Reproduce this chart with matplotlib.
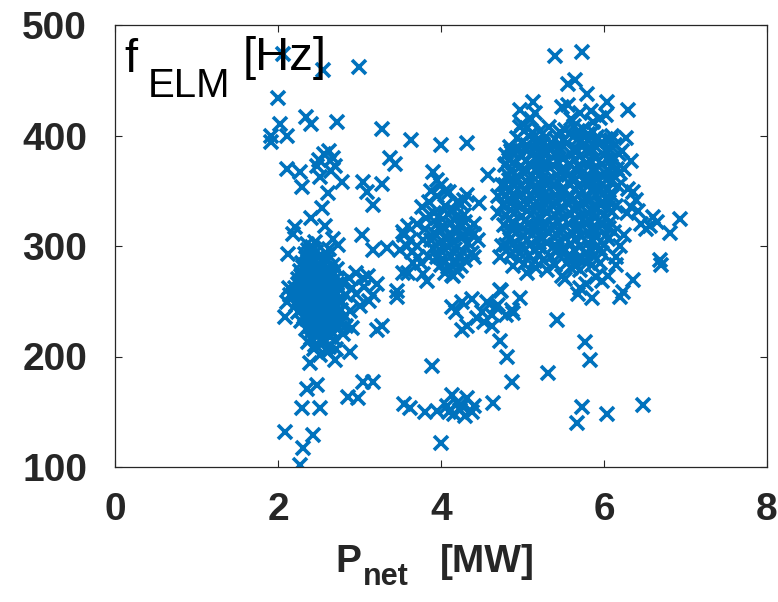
import numpy as np
import matplotlib
matplotlib.use("Agg")
import matplotlib.pyplot as plt

plt.rcParams['font.family'] = ['Liberation Sans', 'DejaVu Sans']

# (P_net [MW], f_ELM [Hz]), grouped by region
upper_left = [(2.06, 474), (2.55, 459), (3.00, 462), (2.00, 434), (1.91, 394), (1.92, 400), (2.03, 410),
              (2.11, 400), (2.34, 417), (2.40, 410), (2.72, 412), (3.27, 406), (2.11, 370), (2.27, 367),
              (2.29, 353), (2.54, 334), (2.61, 348), (2.48, 372), (2.50, 378), (2.56, 383), (2.62, 386),
              (2.67, 380), (2.70, 372), (2.52, 362), (2.79, 358), (3.04, 358), (3.09, 349), (3.16, 337),
              (3.28, 356), (3.37, 380), (3.43, 374), (2.65, 368)]

cluster_a = [(2.36, 302), (2.42, 299), (2.46, 304),
             (2.33, 293), (2.40, 291), (2.47, 295), (2.61, 292),
             (2.30, 285), (2.38, 283), (2.44, 287), (2.52, 284), (2.60, 286), (2.67, 283),
             (2.27, 277), (2.35, 279), (2.43, 276), (2.50, 278), (2.57, 275), (2.65, 277), (2.72, 279),
             (2.24, 270), (2.31, 268), (2.39, 271), (2.47, 269), (2.55, 272), (2.62, 268), (2.70, 270), (2.79, 267),
             (2.21, 262), (2.29, 264), (2.37, 261), (2.45, 263), (2.52, 260), (2.60, 262), (2.68, 264), (2.76, 261),
             (2.20, 255), (2.27, 253), (2.35, 256), (2.43, 254), (2.50, 257), (2.58, 253), (2.66, 255), (2.74, 252),
             (2.84, 256),
             (2.22, 247), (2.30, 249), (2.38, 246), (2.46, 248), (2.54, 245), (2.62, 248), (2.70, 246), (2.78, 249),
             (2.25, 240), (2.33, 238), (2.41, 241), (2.49, 239), (2.57, 242), (2.65, 238), (2.73, 240), (2.82, 237),
             (2.28, 232), (2.36, 234), (2.44, 231), (2.52, 233), (2.60, 230), (2.68, 232), (2.76, 229),
             (2.34, 225), (2.42, 223), (2.50, 226), (2.58, 224), (2.66, 222), (2.72, 225),
             (2.40, 217), (2.48, 219), (2.56, 216), (2.64, 218), (2.70, 215),
             (2.46, 210), (2.55, 212), (2.63, 209)]

a_fill = [(2.37, 296), (2.44, 297), (2.34, 289), (2.42, 288), (2.49, 290), (2.56, 289), (2.31, 281),
          (2.40, 280), (2.47, 282), (2.54, 281), (2.62, 280), (2.28, 273), (2.36, 274), (2.44, 272),
          (2.52, 274), (2.60, 273), (2.68, 274), (2.25, 266), (2.33, 265), (2.41, 267), (2.49, 265),
          (2.57, 266), (2.65, 265), (2.73, 266), (2.24, 258), (2.32, 259), (2.40, 257), (2.48, 259),
          (2.56, 258), (2.64, 259), (2.72, 257), (2.26, 251), (2.34, 250), (2.42, 252), (2.50, 250),
          (2.58, 251), (2.66, 250), (2.74, 251), (2.29, 243), (2.37, 244), (2.45, 242), (2.53, 244),
          (2.61, 243), (2.69, 244), (2.77, 242), (2.32, 236), (2.40, 235), (2.48, 237), (2.56, 235),
          (2.64, 236), (2.72, 235), (2.38, 228), (2.46, 229), (2.54, 227), (2.62, 228), (2.70, 229),
          (2.45, 220), (2.53, 221), (2.61, 220), (2.67, 221)]

a_scatter = [(2.13, 262), (2.12, 293), (2.18, 311), (2.21, 317), (2.09, 236), (2.11, 249), (2.15, 256),
             (2.74, 301), (2.68, 306), (2.62, 297), (2.87, 271), (2.91, 262), (2.96, 257), (2.88, 241),
             (2.83, 228), (2.80, 220), (2.71, 207), (2.61, 204), (2.52, 201), (2.44, 207), (2.37, 213),
             (2.91, 226), (3.01, 246), (3.06, 263), (3.12, 250), (2.96, 276), (3.04, 271), (2.58, 318),
             (2.41, 325), (3.10, 273), (3.22, 266), (3.16, 256), (3.28, 228), (3.22, 224),
             (2.88, 204), (2.70, 197), (2.39, 194), (3.04, 177), (3.17, 177), (2.86, 163), (2.98, 162),
             (2.36, 171), (2.48, 174), (2.29, 153), (2.52, 153), (2.09, 132), (2.43, 129), (2.31, 117),
             (2.27, 102)]

cluster_b = [(4.05, 336), (4.15, 333), (4.25, 338),
             (3.98, 327), (4.08, 329), (4.18, 326), (4.28, 328),
             (3.95, 320), (4.03, 318), (4.12, 321), (4.22, 319), (4.30, 322),
             (3.92, 312), (4.00, 314), (4.10, 311), (4.20, 313), (4.28, 310), (4.36, 312),
             (3.88, 305), (3.97, 303), (4.06, 306), (4.15, 304), (4.25, 307), (4.33, 303),
             (3.90, 298), (3.99, 296), (4.08, 299), (4.17, 297), (4.27, 295),
             (3.95, 290), (4.03, 288), (4.12, 291), (4.22, 289), (4.30, 287),
             (4.00, 283), (4.08, 281), (4.17, 284), (4.25, 282),
             (4.05, 276), (4.13, 274), (4.20, 277)]

b_scatter = [(3.55, 310), (3.58, 300), (3.62, 305), (3.65, 295), (3.70, 300), (3.72, 290), (3.75, 285),
             (3.78, 305), (3.80, 315), (3.82, 325), (3.85, 340), (3.88, 350), (3.70, 320), (3.60, 318),
             (3.66, 285), (3.78, 275), (3.85, 290), (4.40, 320), (4.45, 305), (4.40, 290), (3.95, 345),
             (4.00, 355), (4.05, 350), (4.20, 340), (4.28, 342), (3.92, 330), (3.59, 276), (3.83, 268),
             (3.77, 335), (3.90, 367), (3.95, 360), (4.10, 349), (4.32, 346), (4.47, 339), (4.41, 311),
             (4.38, 294), (4.15, 273), (3.63, 396), (4.00, 391), (4.32, 393), (4.58, 364), (3.03, 310),
             (3.17, 296), (3.34, 298), (3.50, 296), (3.53, 313), (3.53, 276), (3.46, 254), (3.46, 259)]

mid_low = [(4.13, 245), (4.26, 249), (4.38, 252), (4.32, 228), (4.44, 235), (4.53, 231), (4.62, 238),
           (4.68, 245), (4.74, 259), (4.80, 238), (4.87, 242), (4.62, 228), (4.26, 224), (4.72, 214),
           (4.81, 200), (4.87, 177), (3.89, 191), (4.00, 122), (4.18, 240), (4.50, 240), (4.56, 249)]

low_150 = [(3.55, 157), (3.62, 153), (3.80, 150), (3.95, 151), (4.07, 155), (4.13, 165), (4.20, 158),
           (4.26, 155), (4.32, 162), (4.38, 150), (4.16, 148), (4.10, 150), (4.64, 158), (4.41, 155),
           (4.29, 146), (4.23, 152)]

cluster_c = [(5.05, 407), (5.22, 404), (5.33, 408), (5.52, 405), (5.63, 409), (5.74, 406), (5.86, 403),
             (4.93, 398), (5.08, 400), (5.18, 396), (5.29, 399), (5.40, 397), (5.58, 401), (5.69, 398),
             (5.80, 396), (5.91, 399), (6.02, 397),
             (4.85, 390), (4.95, 388), (5.05, 391), (5.15, 389), (5.25, 392), (5.35, 388), (5.45, 390),
             (5.55, 393), (5.65, 389), (5.75, 391), (5.85, 388), (5.95, 392), (6.05, 389), (6.14, 391),
             (4.80, 382), (4.90, 384), (5.00, 381), (5.10, 383), (5.20, 380), (5.30, 384), (5.40, 382),
             (5.50, 379), (5.60, 383), (5.70, 381), (5.80, 384), (5.90, 380), (6.00, 382), (6.10, 379),
             (6.18, 383),
             (4.78, 373), (4.88, 375), (4.98, 372), (5.08, 374), (5.18, 371), (5.28, 375), (5.38, 373),
             (5.48, 370), (5.58, 374), (5.68, 372), (5.78, 375), (5.88, 371), (5.98, 374), (6.08, 372),
             (6.16, 370),
             (4.82, 364), (4.92, 362), (5.02, 366), (5.12, 363), (5.22, 365), (5.32, 361), (5.42, 364),
             (5.52, 366), (5.62, 362), (5.72, 365), (5.82, 363), (5.92, 361), (6.02, 365), (6.12, 363),
             (6.20, 366),
             (4.78, 355), (4.88, 357), (4.98, 354), (5.08, 356), (5.18, 353), (5.28, 357), (5.38, 355),
             (5.48, 352), (5.58, 356), (5.68, 354), (5.78, 357), (5.88, 353), (5.98, 355), (6.08, 358),
             (6.17, 354),
             (4.80, 346), (4.90, 344), (5.00, 347), (5.10, 345), (5.20, 348), (5.30, 344), (5.40, 346),
             (5.50, 349), (5.60, 345), (5.70, 347), (5.80, 344), (5.90, 346), (6.00, 348), (6.10, 345),
             (4.76, 337), (4.86, 339), (4.96, 336), (5.06, 338), (5.16, 335), (5.26, 339), (5.36, 337),
             (5.46, 334), (5.56, 338), (5.66, 336), (5.76, 339), (5.86, 335), (5.96, 337), (6.06, 340),
             (6.15, 336),
             (4.80, 328), (4.90, 330), (5.00, 327), (5.10, 329), (5.20, 326), (5.30, 330), (5.40, 328),
             (5.50, 325), (5.60, 329), (5.70, 327), (5.80, 330), (5.90, 326), (6.00, 328), (6.10, 331),
             (4.77, 319), (4.87, 321), (4.97, 318), (5.07, 320), (5.17, 317), (5.27, 321), (5.37, 319),
             (5.47, 316), (5.57, 320), (5.67, 318), (5.77, 321), (5.87, 317), (5.97, 319), (6.07, 322),
             (4.82, 310), (4.92, 312), (5.02, 309), (5.12, 311), (5.22, 308), (5.32, 312), (5.42, 310),
             (5.52, 307), (5.62, 311), (5.72, 309), (5.82, 312), (5.92, 308), (6.02, 310), (6.12, 313),
             (4.80, 301), (4.90, 303), (5.00, 300), (5.10, 302), (5.20, 299), (5.30, 303), (5.40, 301),
             (5.50, 298), (5.60, 302), (5.70, 300), (5.80, 303), (5.90, 299), (6.00, 301),
             (4.85, 292), (4.97, 294), (5.08, 291), (5.20, 293), (5.35, 290), (5.48, 294), (5.58, 292),
             (5.68, 289), (5.78, 293), (5.88, 291), (5.98, 294),
             (5.02, 284), (5.15, 286), (5.40, 283), (5.55, 285), (5.65, 282), (5.75, 286), (5.85, 283),
             (5.95, 285)]

c_fill = [(5.13, 402), (5.46, 403), (5.68, 404), (5.80, 401),
          (5.00, 394), (5.20, 395), (5.35, 393), (5.50, 396), (5.70, 394), (5.90, 395), (6.08, 396),
          (4.86, 386), (5.04, 387), (5.24, 385), (5.45, 386), (5.64, 385), (5.84, 387), (6.04, 385),
          (4.84, 378), (5.04, 377), (5.24, 379), (5.44, 376), (5.64, 378), (5.84, 377), (6.04, 379),
          (4.86, 369), (5.06, 368), (5.26, 370), (5.46, 367), (5.66, 369), (5.86, 368), (6.06, 367),
          (4.84, 360), (5.04, 359), (5.24, 361), (5.44, 358), (5.64, 360), (5.84, 359), (6.04, 361),
          (4.85, 351), (5.05, 350), (5.25, 352), (5.45, 349), (5.65, 351), (5.85, 350), (6.05, 352),
          (4.82, 342), (5.02, 341), (5.22, 343), (5.42, 340), (5.62, 342), (5.82, 341), (6.02, 343),
          (4.85, 333), (5.05, 332), (5.25, 334), (5.45, 331), (5.65, 333), (5.85, 332), (6.05, 334),
          (4.83, 324), (5.03, 323), (5.23, 325), (5.43, 322), (5.63, 324), (5.83, 323), (6.03, 325),
          (4.86, 315), (5.06, 314), (5.26, 316), (5.46, 313), (5.66, 315), (5.86, 314), (6.06, 316),
          (4.85, 306), (5.05, 305), (5.25, 307), (5.45, 304), (5.65, 306), (5.85, 305), (6.05, 306),
          (4.92, 297), (5.14, 296), (5.42, 297), (5.63, 296), (5.83, 297), (5.95, 297),
          (5.25, 287), (5.70, 278), (5.60, 288)]

c_scatter = [(5.40, 472), (5.73, 476), (5.56, 447), (5.64, 450), (5.79, 438), (4.97, 423), (5.13, 430),
             (5.15, 420), (5.48, 426), (5.56, 428), (5.84, 422), (6.02, 419), (6.04, 430), (6.29, 423),
             (4.97, 408), (4.80, 374), (4.87, 384), (6.33, 377), (6.27, 398), (6.81, 312), (6.93, 324),
             (6.60, 326), (6.51, 315), (6.39, 342), (6.36, 349), (6.33, 335), (6.69, 287), (6.70, 283),
             (6.36, 269), (6.20, 254), (6.23, 258), (6.05, 273), (6.15, 283), (5.42, 233), (4.97, 253),
             (4.72, 260), (4.70, 247), (4.88, 239), (5.31, 185), (5.77, 213), (5.83, 197), (5.73, 154),
             (5.67, 140), (6.04, 148), (6.48, 156), (5.85, 253), (5.68, 257), (4.96, 287), (5.05, 276),
             (5.17, 280), (5.48, 273), (5.60, 280), (5.00, 410), (5.10, 415), (5.60, 415), (5.70, 420),
             (5.86, 412), (5.95, 416), (6.10, 400), (6.22, 386), (6.25, 370), (6.30, 352), (6.28, 330),
             (6.25, 310), (6.20, 300), (6.15, 290), (6.42, 332), (6.46, 320), (6.56, 318), (6.65, 322),
             (4.75, 300), (4.72, 290), (4.70, 330), (4.70, 345), (4.75, 355), (5.98, 268), (5.90, 272),
             (5.78, 266), (5.70, 262), (5.52, 270), (5.30, 278), (4.88, 282)]

groups = [upper_left, cluster_a, a_fill, a_scatter, cluster_b, b_scatter, mid_low, low_150,
          cluster_c, c_fill, c_scatter]
pts = np.array([p for g in groups for p in g])
p_net = pts[:, 0]
f_elm = pts[:, 1]

xticks = [0, 2, 4, 6, 8]
yticks = [100, 200, 300, 400, 500]

W, H = 778, 602
fig = plt.figure(figsize=(W / 100, H / 100), dpi=100)
ax = fig.add_axes([115 / W, (H - 467) / H, 652 / W, 442 / H])

ax.plot(p_net, f_elm, 'x', color='#0072BD', ms=10.5, mew=2.6, ls='none')

ax.set_xlim(0, 8)
ax.set_ylim(100, 500)
ax.set_xticks(xticks)
ax.set_yticks(yticks)
ax.tick_params(direction='in', length=5, width=0.8, top=True, right=True,
               colors='#262626', labelsize=28)
ax.tick_params(axis='x', pad=18)
ax.tick_params(axis='y', pad=20)
for lab in ax.get_xticklabels() + ax.get_yticklabels():
    lab.set_fontweight('bold')
for sp in ax.spines.values():
    sp.set_color('#262626')
    sp.set_linewidth(0.9)

# in-axes label f_ELM [Hz]
fig.text(124 / W, 1 - 72 / H, 'f', fontsize=34, color='black', va='baseline')
fig.text(148 / W, 1 - 97 / H, 'ELM', fontsize=29, color='black', va='baseline')
fig.text(243 / W, 1 - 70 / H, '[Hz]', fontsize=34, color='black', va='baseline')

# x label P_net [MW]
fig.text(335 / W, 1 - 572 / H, 'P', fontsize=28, fontweight='bold', color='#262626', va='baseline')
fig.text(363 / W, 1 - 585 / H, 'net', fontsize=22, fontweight='bold', color='#262626', va='baseline')
fig.text(440 / W, 1 - 572 / H, '[MW]', fontsize=28, fontweight='bold', color='#262626', va='baseline')

fig.savefig('out.png', dpi=100)
